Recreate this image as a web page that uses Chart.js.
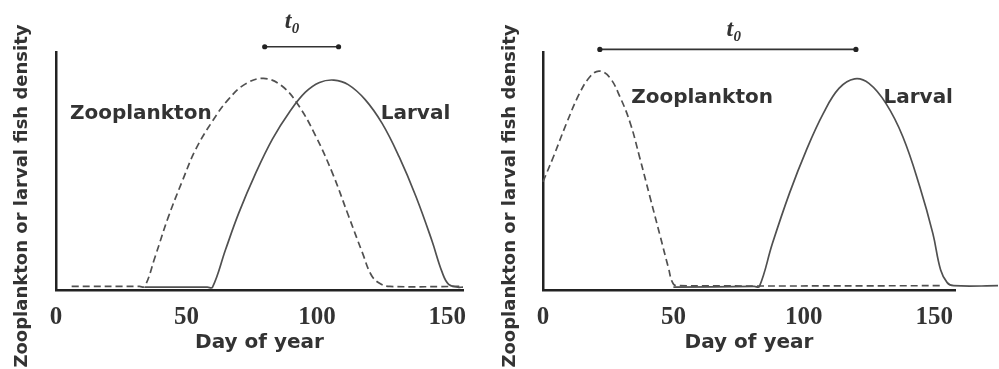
<!DOCTYPE html>
<html>
<head>
<meta charset="utf-8">
<script src="https://cdn.jsdelivr.net/npm/chart.js@4.4.1/dist/chart.umd.min.js"></script>
<style>
  html, body { margin: 0; padding: 0; background: #fff; }
  #wrap { position: relative; width: 999px; height: 369px; overflow: hidden; }
  canvas { position: absolute; top: 0; }
  #left { left: 0; }
  #right { left: 500px; }
</style>
</head>
<body>
<div id="wrap">
  <canvas id="left" width="500" height="369"></canvas>
  <canvas id="right" width="499" height="369"></canvas>
</div>
<script>
// tick labels on the day axis
var xTicks = [0, 50, 100, 150];
var yTitle = 'Zooplankton or larval fish density';

// left panel: peaks close together
var leftZooDay = [6, 32, 34, 38, 43, 48.5, 53.5, 60, 66, 72.5, 79.5, 86.5, 93, 99.5, 106, 112, 117.5, 121, 124.5, 128, 155];
var leftZooVal = [0.015, 0.015, 0.015, 0.14, 0.305, 0.46, 0.59, 0.71, 0.8, 0.865, 0.889, 0.858, 0.775, 0.648, 0.49, 0.315, 0.155, 0.06, 0.025, 0.015, 0.015];
var leftLarDay = [34, 58, 60, 65, 70, 76.5, 83, 89.5, 95.5, 101, 106.5, 112, 118.5, 125, 131.5, 138, 144, 148, 150.5, 154, 156];
var leftLarVal = [0.012, 0.012, 0.012, 0.17, 0.322, 0.49, 0.635, 0.748, 0.83, 0.872, 0.882, 0.863, 0.8, 0.7, 0.56, 0.392, 0.21, 0.075, 0.024, 0.012, 0.012];
var leftLagDay = [80, 108.3];
var leftLagVal = [1.022, 1.022];

// right panel: peaks far apart
var rightZooDay = [0, 4, 9, 14, 18, 21.5, 25.5, 29.5, 33.5, 37, 41, 45, 48, 50, 52.5, 153];
var rightZooVal = [0.455, 0.56, 0.7, 0.826, 0.896, 0.92, 0.894, 0.812, 0.7, 0.56, 0.392, 0.224, 0.098, 0.025, 0.018, 0.018];
var rightLarDay = [50, 81, 83, 88, 94.5, 101, 107.5, 113.5, 119.5, 125, 131.5, 138, 144.5, 149.5, 152.5, 155, 157.5, 174.5];
var rightLarVal = [0.012, 0.015, 0.015, 0.196, 0.406, 0.588, 0.742, 0.847, 0.887, 0.868, 0.784, 0.644, 0.434, 0.238, 0.084, 0.031, 0.018, 0.018];
var rightLagDay = [21.8, 120];
var rightLagVal = [1.011, 1.011];

function pairs(xs, ys) {
  return xs.map(function (x, i) { return { x: x, y: ys[i] }; });
}

// curve labels, t0 marker ends and the rotated y title
var textPlugin = {
  id: 'panelText',
  afterDraw: function (chart) {
    var o = chart.options.plugins.panelText;
    var ctx = chart.ctx, xs = chart.scales.x, ys = chart.scales.y;
    ctx.save();

    // end dots of the t0 bar (points sit above the chart area, so chart.js skips them)
    ctx.fillStyle = '#222';
    chart.getDatasetMeta(2).data.forEach(function (p) {
      ctx.beginPath();
      ctx.arc(p.x, p.y, 2.6, 0, Math.PI * 2);
      ctx.fill();
    });

    ctx.fillStyle = '#333';
    ctx.textAlign = 'center';
    ctx.textBaseline = 'middle';
    ctx.font = 'bold 20px "DejaVu Sans"';
    o.labels.forEach(function (l) {
      ctx.fillText(l.text, xs.getPixelForValue(l.day), ys.getPixelForValue(l.val));
    });

    var tx = xs.getPixelForValue(o.lag.day), ty = ys.getPixelForValue(o.lag.val);
    ctx.textAlign = 'left';
    ctx.textBaseline = 'alphabetic';
    ctx.font = 'italic bold 24px "Liberation Serif"';
    ctx.fillText('t', tx - 5, ty);
    ctx.font = 'italic bold 15px "Liberation Serif"';
    ctx.fillText('0', tx + 2, ty + 5);

    ctx.translate(o.yPos.x, o.yPos.y);
    ctx.rotate(-Math.PI / 2);
    ctx.textAlign = 'center';
    ctx.textBaseline = 'middle';
    ctx.font = 'bold 18px "DejaVu Sans"';
    ctx.fillText(yTitle, 0, 0);
    ctx.restore();
  }
};

function makePanel(id, zooDay, zooVal, larDay, larVal, lagDay, lagVal, xMax, padL, padR, text) {
  return new Chart(document.getElementById(id), {
    type: 'scatter',
    data: {
      datasets: [
        { data: pairs(larDay, larVal), showLine: true, borderColor: '#505050', borderWidth: 1.7,
          pointRadius: 0, tension: 0.4, clip: false },
        { data: pairs(zooDay, zooVal), showLine: true, borderColor: '#505050', borderWidth: 1.7,
          borderDash: [7, 4], pointRadius: 0, tension: 0.4, clip: false },
        { data: pairs(lagDay, lagVal), showLine: true, borderColor: '#333', borderWidth: 1.6,
          pointRadius: 0, clip: false }
      ]
    },
    options: {
      responsive: false,
      animation: false,
      devicePixelRatio: 1,
      layout: { padding: { left: padL, right: padR, top: 52, bottom: 0 } },
      plugins: {
        legend: { display: false },
        tooltip: { enabled: false },
        panelText: text
      },
      scales: {
        x: {
          type: 'linear', min: 0, max: xMax,
          grid: { display: false, drawTicks: false },
          border: { display: true, color: '#222', width: 2.5 },
          afterFit: function (s) { s.height = 79; },
          afterBuildTicks: function (s) { s.ticks = xTicks.map(function (v) { return { value: v }; }); },
          ticks: { padding: 13, color: '#333', font: { family: '"Liberation Serif"', weight: 'bold', size: 25 } },
          title: { display: true, text: 'Day of year', color: '#333',
                   font: { family: '"DejaVu Sans"', weight: 'bold', size: 20 }, padding: { top: 0, bottom: 14 } }
        },
        y: {
          min: 0, max: 1,
          grid: { display: false, drawTicks: false },
          ticks: { display: false },
          border: { display: true, color: '#222', width: 2.5 },
          afterFit: function (s) { s.width = 0; }
        }
      }
    },
    plugins: [textPlugin]
  });
}

makePanel('left', leftZooDay, leftZooVal, leftLarDay, leftLarVal, leftLagDay, leftLagVal, 156, 56, 37, {
  labels: [{ text: 'Zooplankton', day: 32.5, val: 0.74 }, { text: 'Larval', day: 137.8, val: 0.74 }],
  lag: { day: 89.6, val: 1.1 },
  yPos: { x: 22, y: 196 }
});
makePanel('right', rightZooDay, rightZooVal, rightLarDay, rightLarVal, rightLagDay, rightLagVal, 158, 43, 44, {
  labels: [{ text: 'Zooplankton', day: 61, val: 0.808 }, { text: 'Larval', day: 143.9, val: 0.808 }],
  lag: { day: 72.3, val: 1.067 },
  yPos: { x: 10, y: 196 }
});
</script>
</body>
</html>
